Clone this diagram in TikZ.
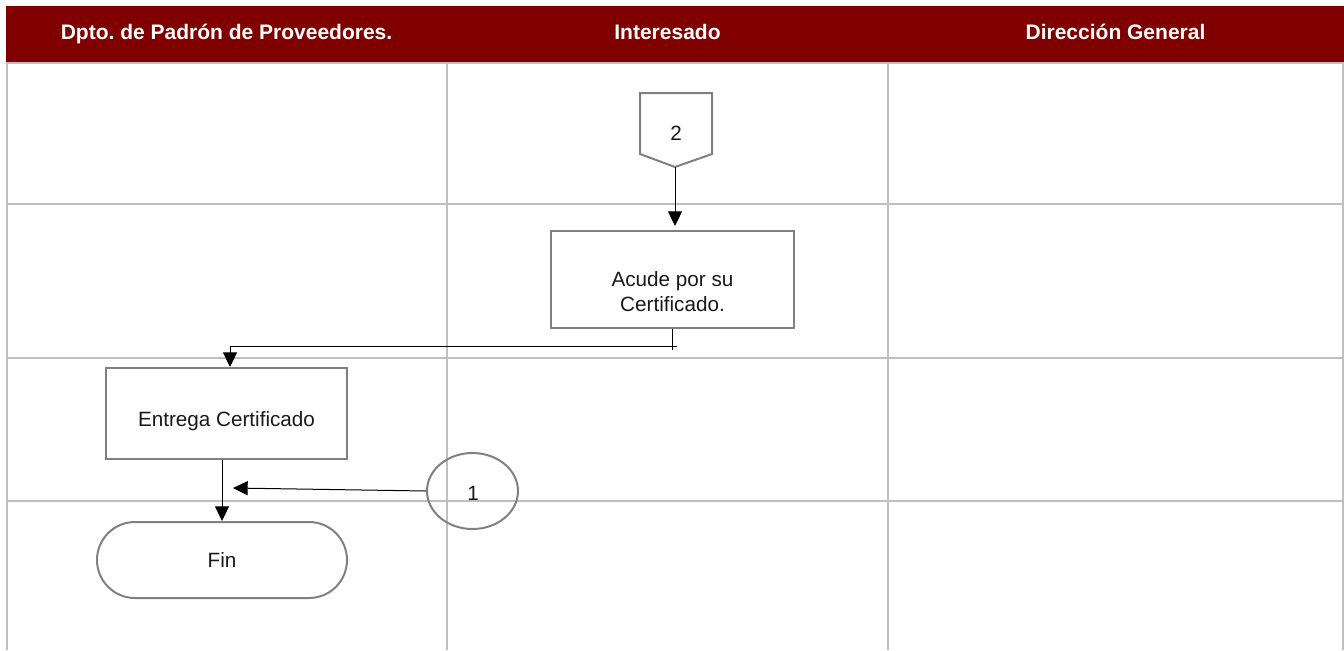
\documentclass[tikz,border=0pt]{standalone}
\usepackage{fontspec}
\setmainfont{Liberation Sans}
\usetikzlibrary{shapes.geometric,arrows.meta,calc}
\definecolor{headred}{HTML}{800000}
\definecolor{gridgray}{HTML}{BFBFBF}
\definecolor{boxgray}{HTML}{808080}
\frenchspacing
\begin{document}
\begin{tikzpicture}[x=0.75pt,y=-0.75pt,
  grid/.style={draw=gridgray,line width=1.5pt},
  headtxt/.style={text=white,font=\bfseries\fontsize{15.75}{19}\selectfont,inner sep=0pt,
    text height=11.3pt,text depth=3.2pt},
  txt/.style={font=\fontsize{15.5}{18.75}\selectfont,align=center,inner sep=0pt,text=black!90},
  shapeline/.style={draw=boxgray,line width=1.5pt},
  procbox/.style={shapeline,rectangle,inner sep=0pt},
  flow/.style={draw=black,line width=0.75pt,-{Triangle[length=11pt,width=10.5pt]}},
  plain/.style={draw=black,line width=0.75pt}
]
\useasboundingbox (0,0) rectangle (1344,650);

% header band
\fill[headred] (6,6) rectangle (1344,62);
\node[headtxt] (h1) at (226.5,34) {Dpto. de Padrón de Proveedores.};
\node[headtxt] (h2) at (667.5,34) {Interesado};
\node[headtxt] (h3) at (1115.5,34) {Dirección General};

% swimlane grid
\foreach \x in {6.5,447,888,1342.5}
  \draw[grid] (\x,62) -- (\x,650);
\foreach \y in {63,204,357.5,500.5}
  \draw[grid] (6,\y) -- (1343,\y);

% off-page connector 2
\draw[shapeline,fill=white] (640,93) -- (712,93) -- (712,154) -- (675,167) -- (640,154) -- cycle;
\coordinate (c2tip) at (675,167);
\node[txt] (c2) at (676,133) {2};

% Acude por su Certificado.
\node[procbox,minimum width=182.25pt,minimum height=72.75pt] (acude) at (672.5,279.5) {};
\node[txt] (acudet) at (672.5,292) {Acude por su\\Certificado.};

% Entrega Certificado
\node[procbox,minimum width=180.75pt,minimum height=68.25pt] (entrega) at (226.5,413.5) {};
\node[txt] (entregat) at (226.5,421.5) {Entrega Certificado};

% Fin terminator
\node[procbox,rounded corners=28.5pt,minimum width=187.5pt,minimum height=57pt] (fin) at (222,560) {};
\node[txt] (fint) at (222,560.5) {Fin};

% connector 1
\node[shapeline,ellipse,minimum width=68.25pt,minimum height=57pt,inner sep=0pt] (c1) at (472.5,491) {};
\node[txt] (c1t) at (473,493) {1};

% flows
\draw[flow,shorten >=3pt] (c2tip) -- (c2tip |- acude.north);
\coordinate (acudeout) at ($(acude.south)+(0,21)$);
\draw[plain] (acude.south) -- (acudeout);
\coordinate (elbow) at (677,346);
\coordinate (entregain) at ($(entrega.north)+(3.5,0)$);
\draw[flow] (elbow) -| (entregain);
\draw[flow] (entrega.south -| fin.north) -- (fin.north);
\coordinate (joinpt) at (233,488);
\draw[flow] (c1.west) -- (joinpt);
\end{tikzpicture}
\end{document}
